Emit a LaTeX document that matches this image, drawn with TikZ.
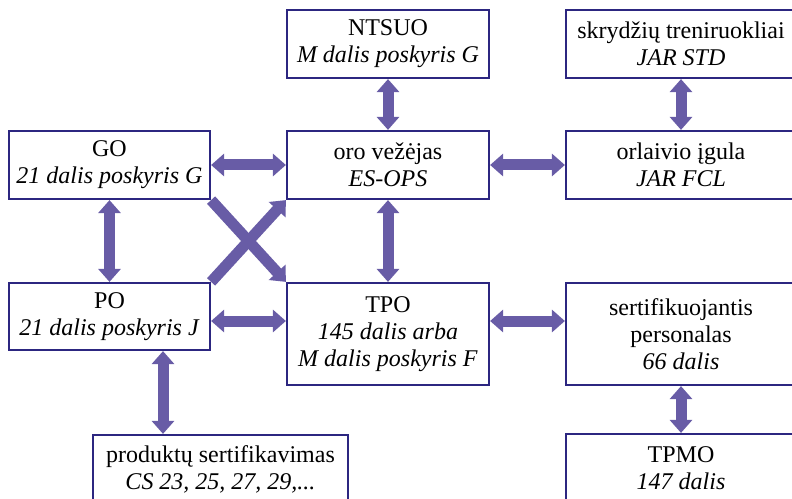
\documentclass[tikz,border=0pt]{standalone}
\usepackage{fontspec}
\setmainfont{Liberation Serif}
\usetikzlibrary{arrows.meta,backgrounds}
\definecolor{boxc}{RGB}{44,38,128}
\definecolor{arrc}{RGB}{104,92,166}
\begin{document}
\begin{tikzpicture}[x=1bp,y=-1bp,
  box/.style={draw=boxc,line width=2.2bp,fill=white,align=center,inner sep=0pt,
    font=\fontsize{24bp}{27bp}\selectfont},
  biarrow/.style={draw=arrc,line width=11bp,
    {Triangle[width=22bp,length=13bp]}-{Triangle[width=22bp,length=13bp]}},
  onearrow/.style={draw=arrc,line width=11bp,
    -{Triangle[width=22bp,length=13bp]}}]
\useasboundingbox (0,0) rectangle (792,499);
\clip (0,0) rectangle (792,499);
\node[box,minimum width=202bp,minimum height=68bp] (ntsuo) at (388,44) {NTSUO\\\textit{M dalis poskyris G}};
\node[box,minimum width=230bp,minimum height=68bp] (skryd) at (681,44) {skrydžių treniruokliai\\\textit{JAR STD}};
\node[box,minimum width=201bp,minimum height=68bp] (go) at (109.5,165) {GO\\\textit{21 dalis poskyris G}};
\node[box,minimum width=202bp,minimum height=68bp] (oro) at (388,165) {oro vežėjas\\\textit{ES-OPS}};
\node[box,minimum width=230bp,minimum height=68bp] (orl) at (681,165) {orlaivio įgula\\\textit{JAR FCL}};
\node[box,minimum width=201bp,minimum height=67bp] (po) at (109.5,316.5) {PO\\\textit{21 dalis poskyris J}};
\node[box,minimum width=202bp,minimum height=102bp] (tpo) at (388,334) {TPO\\\textit{145 dalis arba}\\\textit{M dalis poskyris F}};
\node[box,minimum width=230bp,minimum height=102bp] (sert) at (681,334) {sertifikuojantis\\personalas\\\textit{66 dalis}};
\node[box,minimum width=255bp,minimum height=68bp] (prod) at (220.5,469) {produktų sertifikavimas\\\textit{CS 23, 25, 27, 29,...}};
\node[box,minimum width=230bp,minimum height=68bp] (tpmo) at (681,468) {TPMO\\\textit{147 dalis}};
\begin{pgfonlayer}{background}
\draw[biarrow] (ntsuo.south) -- (oro.north);
\draw[biarrow] (skryd.south) -- (orl.north);
\draw[biarrow] (go.east) -- (oro.west);
\draw[biarrow] (oro.east) -- (orl.west);
\draw[biarrow] (go.south) -- (po.north);
\draw[biarrow] (oro.south) -- (tpo.north);
\draw[onearrow] (go.south east) -- (tpo.north west);
\draw[onearrow] (po.north east) -- (oro.south west);
\draw[biarrow] (po.east |- 0,321) -- (tpo.west |- 0,321);
\draw[biarrow] (tpo.east |- 0,321) -- (sert.west |- 0,321);
\draw[biarrow] (163,0 |- po.south) -- (163,0 |- prod.north);
\draw[biarrow] (sert.south) -- (tpmo.north);
\end{pgfonlayer}
\end{tikzpicture}
\end{document}
